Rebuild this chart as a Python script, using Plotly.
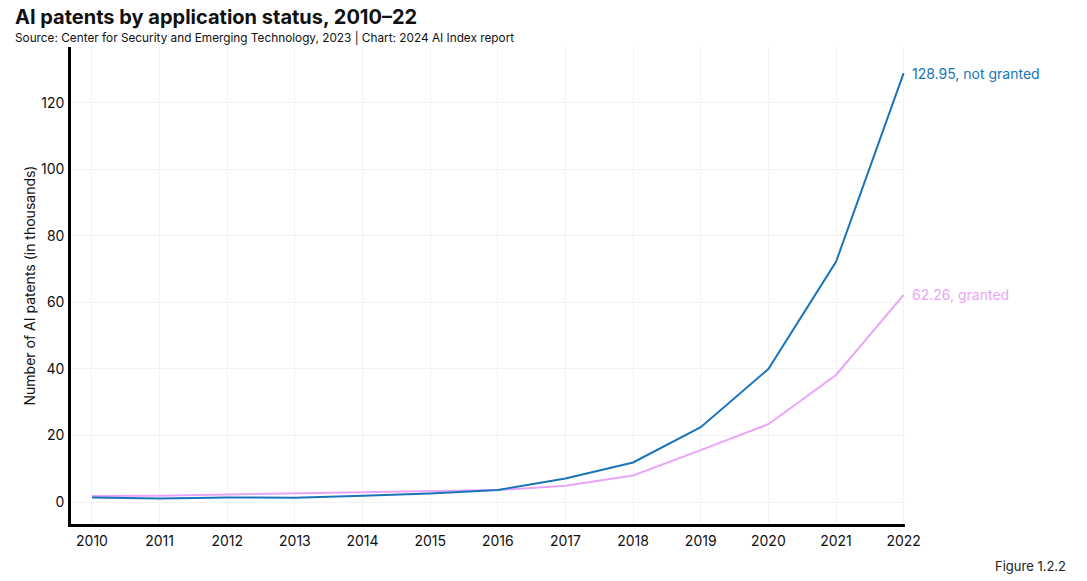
import plotly.graph_objects as go

years = list(range(2010, 2023))
not_granted = [1.4, 1.1, 1.4, 1.3, 1.9, 2.6, 3.6, 7.1, 11.9, 22.5, 40.0, 72.2, 128.95]
granted = [1.8, 1.9, 2.3, 2.6, 2.9, 3.2, 3.6, 4.9, 8.0, 15.6, 23.4, 38.2, 62.26]
y_ticks = [0, 20, 40, 60, 80, 100, 120]

BLUE = "#1a74b9"
PINK = "#e9a5f8"
FONT = "Inter"

L, R, T, B = 71, 182, 47, 57
W, H = 1087, 581
PW, PH = W - L - R, H - T - B

def px(xp):
    return (xp - L) / PW

def py(yp):
    return (H - B - yp) / PH

fig = go.Figure()
fig.add_trace(go.Scatter(x=years, y=granted, mode="lines", name="granted",
                         line=dict(color=PINK, width=2)))
fig.add_trace(go.Scatter(x=years, y=not_granted, mode="lines", name="not granted",
                         line=dict(color=BLUE, width=2)))

fig.add_annotation(x=years[-1], y=not_granted[-1], text=f"{not_granted[-1]:.2f}, not granted",
                   showarrow=False, xanchor="left", xshift=6, font=dict(color=BLUE, size=14, family=FONT))
fig.add_annotation(x=years[-1], y=granted[-1], text=f"{granted[-1]:.2f}, granted",
                   showarrow=False, xanchor="left", xshift=6, font=dict(color=PINK, size=14, family=FONT))

fig.add_annotation(xref="paper", yref="paper", x=px(13), y=py(17),
                   text="<b>AI patents by application status, 2010–22</b>",
                   showarrow=False, xanchor="left", yanchor="middle",
                   font=dict(size=20, family=FONT, color="#111"))
fig.add_annotation(xref="paper", yref="paper", x=px(13), y=py(37),
                   text="Source: Center for Security and Emerging Technology, 2023 | Chart: 2024 AI Index report",
                   showarrow=False, xanchor="left", yanchor="middle",
                   font=dict(size=11.8, family=FONT, color="#111"))
fig.add_annotation(xref="paper", yref="paper", x=px(1068), y=py(566), text="Figure 1.2.2",
                   showarrow=False, xanchor="right", yanchor="middle",
                   font=dict(size=13, color="#222", family=FONT))

fig.update_layout(
    width=W, height=H,
    paper_bgcolor="white", plot_bgcolor="white",
    margin=dict(l=L, r=R, t=T, b=B),
    showlegend=False,
    font=dict(family=FONT, color="#111"),
    xaxis=dict(
        range=[2009.69, 2022.02], tickmode="array", tickvals=years,
        ticktext=[str(y) for y in years],
        showgrid=True, gridcolor="#f2f2f2", gridwidth=1,
        showline=True, linecolor="black", linewidth=2.5,
        zeroline=False, ticks="", tickfont=dict(size=14, family=FONT, color="#111"),
        ticklabelstandoff=2,
    ),
    yaxis=dict(
        range=[-6.6, 136.8], tickmode="array", tickvals=y_ticks,
        showgrid=True, gridcolor="#f2f2f2", gridwidth=1,
        showline=True, linecolor="black", linewidth=2.5,
        zeroline=False, ticks="", tickfont=dict(size=14, family=FONT, color="#111"),
        ticklabelstandoff=1,
        title=dict(text="Number of AI patents (in thousands)", font=dict(size=14, family=FONT, color="#111"), standoff=3),
    ),
)

fig.write_html("out.html", config={"displayModeBar": False},
               post_script="document.body.style.margin='0';document.body.style.overflow='hidden';")
